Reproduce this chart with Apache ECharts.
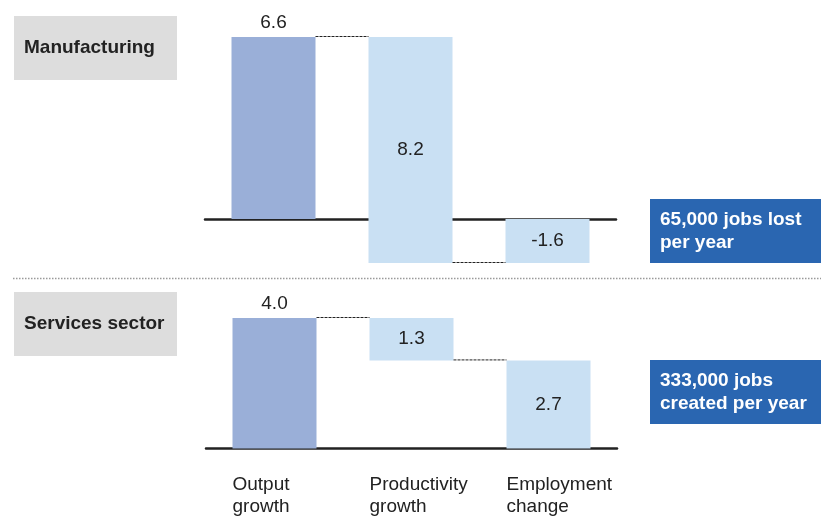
<!DOCTYPE html>
<html>
<head>
<meta charset="utf-8">
<script src="https://cdn.jsdelivr.net/npm/echarts@6/dist/echarts.min.js"></script>
<style>html,body{margin:0;padding:0;background:#fff}#c{width:821px;height:516px}</style>
</head>
<body>
<div id="c"></div>
<script>
// ---- data ----
const categories = ['Output growth', 'Productivity growth', 'Employment change'];
const mfgValues = [6.6, 8.2, -1.6];      // output, productivity (subtracted), employment
const svcValues = [4.0, 1.3, 2.7];
const panelTitles = ['Manufacturing', 'Services sector'];
const calloutTexts = ['65,000 jobs lost\nper year', '333,000 jobs\ncreated per year'];

// ---- waterfall geometry from values ----
function waterfall(v) {
  const out = v[0], prod = v[1], emp = v[2];
  const ranges = [[0, out], [out - prod, out], [Math.min(emp, 0), Math.max(emp, 0)]];
  return {
    base: ranges.map(r => r[0]),
    size: ranges.map(r => r[1] - r[0]),
    connectors: [[0, out], [1, out - prod]],
    labels: v.map(x => x.toFixed(1))
  };
}
const mfg = waterfall(mfgValues);
const svc = waterfall(svcValues);

const FONT = '"Liberation Sans", Arial, sans-serif';
const TXT = '#222222';
const DARK = '#9aafd8', LIGHT = '#c9e0f3';
const BARW = 84;

function barSeries(w, idx) {
  return [
    { type: 'bar', xAxisIndex: idx, yAxisIndex: idx, stack: 's' + idx, stackStrategy: 'all',
      barWidth: BARW, itemStyle: { color: 'transparent' }, silent: true, data: w.base },
    { type: 'bar', xAxisIndex: idx, yAxisIndex: idx, stack: 's' + idx, stackStrategy: 'all',
      barWidth: BARW,
      data: w.size.map((s, i) => ({
        value: s,
        itemStyle: { color: i === 0 ? DARK : LIGHT },
        label: { show: true, position: i === 0 ? 'top' : 'inside', distance: 5,
                 formatter: () => w.labels[i], color: TXT, fontSize: 19, fontFamily: FONT }
      }))
    },
    { type: 'custom', xAxisIndex: idx, yAxisIndex: idx, silent: true, z: 5,
      data: w.connectors,
      renderItem: function (params, api) {
        const p = api.coord([api.value(0), api.value(1)]);
        const band = api.size([1, 0])[0];
        return { type: 'line',
          shape: { x1: p[0] + BARW / 2, y1: p[1] - 0.5, x2: p[0] + band - BARW / 2, y2: p[1] - 0.5 },
          style: { stroke: '#222', lineWidth: 1, lineDash: [3, 1] } };
      }
    }
  ];
}

const chart = echarts.init(document.getElementById('c'), null, { renderer: 'canvas' });
chart.setOption({
  animation: false,
  backgroundColor: '#ffffff',
  grid: [
    { left: 205, width: 411, top: 37, height: 226 },
    { left: 206, width: 411, top: 318, height: 131 }
  ],
  xAxis: [
    { gridIndex: 0, type: 'category', data: categories,
      axisLine: { onZero: true, lineStyle: { color: TXT, width: 2.5 } },
      axisTick: { show: false }, axisLabel: { show: false }, splitLine: { show: false } },
    { gridIndex: 1, type: 'category', data: categories,
      axisLine: { onZero: true, lineStyle: { color: TXT, width: 2.5 } },
      axisTick: { show: false }, splitLine: { show: false },
      axisLabel: { margin: 25, interval: 0,
        formatter: v => v.split(' ').map(s => '{a|' + s + '}').join('\n'),
        rich: { a: { width: BARW, align: 'left', fontSize: 19, lineHeight: 22, color: TXT, fontFamily: FONT } } } }
  ],
  yAxis: [
    { gridIndex: 0, type: 'value', min: -1.6, max: 6.6, show: false },
    { gridIndex: 1, type: 'value', min: 0, max: 4.0, show: false }
  ],
  series: [...barSeries(mfg, 0), ...barSeries(svc, 1)],
  graphic: [
    { type: 'line', shape: { x1: 13, y1: 278.5, x2: 821, y2: 278.5 },
      style: { stroke: '#9a9a9a', lineWidth: 1.5, lineDash: [1.5, 1.5] } },
    { type: 'rect', shape: { x: 14, y: 16, width: 163, height: 64 }, style: { fill: '#dddddd' } },
    { type: 'text', x: 24, y: 48, style: { text: panelTitles[0], font: 'bold 19px ' + FONT, fill: TXT, verticalAlign: 'middle' } },
    { type: 'rect', shape: { x: 14, y: 292, width: 163, height: 64 }, style: { fill: '#dddddd' } },
    { type: 'text', x: 24, y: 324, style: { text: panelTitles[1], font: 'bold 19px ' + FONT, fill: TXT, verticalAlign: 'middle' } },
    { type: 'rect', shape: { x: 650, y: 199, width: 171, height: 64 }, style: { fill: '#2a66b1' } },
    { type: 'text', x: 660, y: 231, style: { text: calloutTexts[0], font: 'bold 19px ' + FONT, fill: '#fff', verticalAlign: 'middle', lineHeight: 23 } },
    { type: 'rect', shape: { x: 650, y: 360, width: 171, height: 64 }, style: { fill: '#2a66b1' } },
    { type: 'text', x: 660, y: 392, style: { text: calloutTexts[1], font: 'bold 19px ' + FONT, fill: '#fff', verticalAlign: 'middle', lineHeight: 23 } }
  ]
});
</script>
</body>
</html>
